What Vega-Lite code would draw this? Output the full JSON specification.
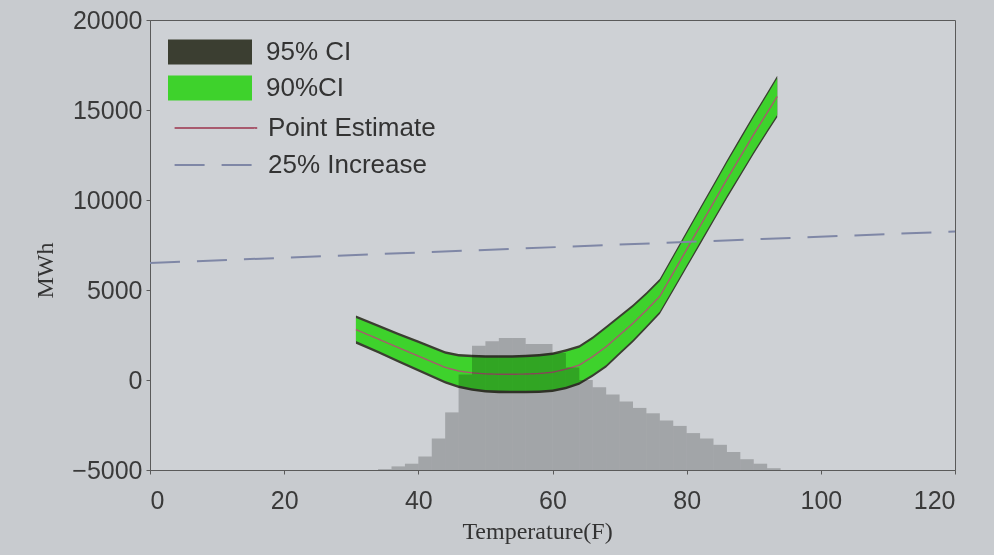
{
  "$schema": "https://vega.github.io/schema/vega-lite/v6.json",
  "width": 805,
  "height": 450,
  "autosize": {"type": "none"},
  "padding": {"left": 150, "top": 20, "right": 39, "bottom": 85},
  "background": "#c8cbcf",
  "config": {
    "view": {"fill": "#ced1d5", "stroke": "#5a5a5a", "strokeWidth": 1},
    "axis": {
      "grid": false,
      "labelFont": "Liberation Sans",
      "labelFontSize": 25,
      "labelColor": "#3a3a3a",
      "titleFont": "Liberation Serif",
      "titleFontSize": 24,
      "titleFontWeight": "normal",
      "titleColor": "#333333",
      "domainColor": "#5a5a5a",
      "tickColor": "#5a5a5a",
      "tickSize": 4,
      "format": "d"
    },
    "legend": {
      "title": null,
      "orient": "none",
      "padding": 0,
      "symbolSize": 784,
      "labelFont": "Liberation Sans",
      "labelFontSize": 26,
      "labelColor": "#333333",
      "labelLimit": 400,
      "rowPadding": 9,
      "symbolOpacity": 1
    }
  },
  "datasets": {
    "band": [
      {"t": 30.7, "est": 2800, "lo95": 2020, "hi95": 3580, "lo90": 2160, "hi90": 3440},
      {"t": 34, "est": 2280, "lo95": 1480, "hi95": 3080, "lo90": 1620, "hi90": 2940},
      {"t": 37, "est": 1800, "lo95": 970, "hi95": 2630, "lo90": 1110, "hi90": 2490},
      {"t": 40, "est": 1330, "lo95": 470, "hi95": 2190, "lo90": 610, "hi90": 2050},
      {"t": 44, "est": 700, "lo95": -200, "hi95": 1600, "lo90": -60, "hi90": 1460},
      {"t": 46, "est": 500, "lo95": -450, "hi95": 1450, "lo90": -310, "hi90": 1310},
      {"t": 48, "est": 400, "lo95": -600, "hi95": 1400, "lo90": -460, "hi90": 1260},
      {"t": 50, "est": 340, "lo95": -690, "hi95": 1370, "lo90": -550, "hi90": 1230},
      {"t": 52, "est": 320, "lo95": -730, "hi95": 1370, "lo90": -590, "hi90": 1230},
      {"t": 54, "est": 320, "lo95": -740, "hi95": 1380, "lo90": -600, "hi90": 1240},
      {"t": 56, "est": 330, "lo95": -740, "hi95": 1400, "lo90": -600, "hi90": 1260},
      {"t": 58, "est": 360, "lo95": -720, "hi95": 1440, "lo90": -580, "hi90": 1300},
      {"t": 60, "est": 430, "lo95": -670, "hi95": 1530, "lo90": -530, "hi90": 1390},
      {"t": 62, "est": 600, "lo95": -510, "hi95": 1710, "lo90": -370, "hi90": 1570},
      {"t": 64, "est": 830, "lo95": -270, "hi95": 1930, "lo90": -130, "hi90": 1790},
      {"t": 66, "est": 1300, "lo95": 180, "hi95": 2420, "lo90": 320, "hi90": 2280},
      {"t": 68, "est": 1850, "lo95": 700, "hi95": 3000, "lo90": 840, "hi90": 2860},
      {"t": 70, "est": 2500, "lo95": 1400, "hi95": 3600, "lo90": 1540, "hi90": 3460},
      {"t": 72, "est": 3150, "lo95": 2100, "hi95": 4200, "lo90": 2240, "hi90": 4060},
      {"t": 74, "est": 3880, "lo95": 2880, "hi95": 4880, "lo90": 3020, "hi90": 4740},
      {"t": 76, "est": 4650, "lo95": 3670, "hi95": 5630, "lo90": 3810, "hi90": 5490},
      {"t": 78, "est": 5950, "lo95": 4950, "hi95": 6950, "lo90": 5090, "hi90": 6810},
      {"t": 80, "est": 7250, "lo95": 6230, "hi95": 8270, "lo90": 6370, "hi90": 8130},
      {"t": 82, "est": 8550, "lo95": 7520, "hi95": 9580, "lo90": 7660, "hi90": 9440},
      {"t": 84, "est": 9850, "lo95": 8810, "hi95": 10890, "lo90": 8950, "hi90": 10750},
      {"t": 86, "est": 11150, "lo95": 10090, "hi95": 12210, "lo90": 10230, "hi90": 12070},
      {"t": 88, "est": 12400, "lo95": 11320, "hi95": 13480, "lo90": 11460, "hi90": 13340},
      {"t": 90, "est": 13650, "lo95": 12550, "hi95": 14750, "lo90": 12690, "hi90": 14610},
      {"t": 92, "est": 14850, "lo95": 13730, "hi95": 15970, "lo90": 13870, "hi90": 15830},
      {"t": 93.5, "est": 15750, "lo95": 14600, "hi95": 16900, "lo90": 14740, "hi90": 16760}
    ],
    "hist": [
      {"lo": 34, "hi": 36, "top": -4950},
      {"lo": 36, "hi": 38, "top": -4800},
      {"lo": 38, "hi": 40, "top": -4650},
      {"lo": 40, "hi": 42, "top": -4250},
      {"lo": 42, "hi": 44, "top": -3250},
      {"lo": 44, "hi": 46, "top": -1800},
      {"lo": 46, "hi": 48, "top": 300},
      {"lo": 48, "hi": 50, "top": 1900},
      {"lo": 50, "hi": 52, "top": 2150},
      {"lo": 52, "hi": 54, "top": 2330},
      {"lo": 54, "hi": 56, "top": 2330},
      {"lo": 56, "hi": 58, "top": 2000},
      {"lo": 58, "hi": 60, "top": 2000},
      {"lo": 60, "hi": 62, "top": 1500},
      {"lo": 62, "hi": 64, "top": 700},
      {"lo": 64, "hi": 66, "top": 0},
      {"lo": 66, "hi": 68, "top": -400},
      {"lo": 68, "hi": 70, "top": -800},
      {"lo": 70, "hi": 72, "top": -1200},
      {"lo": 72, "hi": 74, "top": -1550},
      {"lo": 74, "hi": 76, "top": -1850},
      {"lo": 76, "hi": 78, "top": -2250},
      {"lo": 78, "hi": 80, "top": -2550},
      {"lo": 80, "hi": 82, "top": -2950},
      {"lo": 82, "hi": 84, "top": -3250},
      {"lo": 84, "hi": 86, "top": -3600},
      {"lo": 86, "hi": 88, "top": -4000},
      {"lo": 88, "hi": 90, "top": -4400},
      {"lo": 90, "hi": 92, "top": -4650},
      {"lo": 92, "hi": 94, "top": -4900}
    ],
    "inc": [
      {"t": 0, "v": 6500},
      {"t": 120, "v": 8250}
    ]
  },
  "encoding": {
    "x": {
      "type": "quantitative",
      "scale": {"domain": [0, 120], "nice": false, "zero": false},
      "axis": {"values": [0, 20, 40, 60, 80, 100, 120], "title": "Temperature(F)", "labelPadding": 14, "titlePadding": 6, "titleX": 387}
    },
    "y": {
      "type": "quantitative",
      "scale": {"domain": [-5000, 20000], "nice": false, "zero": false},
      "axis": {"values": [-5000, 0, 5000, 10000, 15000, 20000], "title": "MWh", "labelPadding": 4, "titlePadding": 14, "titleY": 250}
    }
  },
  "layer": [
    {
      "data": {"name": "band"},
      "mark": {"type": "area", "opacity": 1},
      "encoding": {
        "x": {"field": "t", "type": "quantitative"},
        "y": {"field": "lo95", "type": "quantitative"},
        "y2": {"field": "hi95"},
        "fill": {
          "datum": "95% CI",
          "type": "nominal",
          "scale": {"domain": ["95% CI", "90%CI"], "range": ["#3b3e31", "#3ed22c"]},
          "legend": {"symbolType": "M-1,-0.9H5V0.9H-1Z", "symbolStrokeWidth": 0, "legendX": 18, "legendY": 18, "labelOffset": 70}
        }
      }
    },
    {
      "data": {"name": "band"},
      "mark": {"type": "area", "opacity": 1},
      "encoding": {
        "x": {"field": "t", "type": "quantitative"},
        "y": {"field": "lo90", "type": "quantitative"},
        "y2": {"field": "hi90"},
        "fill": {"datum": "90%CI", "type": "nominal"}
      }
    },
    {
      "data": {"name": "band"},
      "mark": {"type": "line", "strokeWidth": 1.4},
      "encoding": {
        "x": {"field": "t", "type": "quantitative"},
        "y": {"field": "est", "type": "quantitative"},
        "stroke": {
          "datum": "Point Estimate",
          "type": "nominal",
          "scale": {"domain": ["Point Estimate", "25% Increase"], "range": ["#a85a6e", "#7f87a6"]},
          "legend": {"symbolType": "M-0.6,0H5.3", "symbolStrokeWidth": 2, "symbolFillColor": "transparent", "legendX": 18, "legendY": 93, "labelOffset": 70}
        },
        "strokeDash": {
          "datum": "Point Estimate",
          "type": "nominal",
          "scale": {"domain": ["Point Estimate", "25% Increase"], "range": [[1, 0], [30, 17]]},
          "legend": {"symbolType": "M-0.6,0H5.3", "symbolStrokeWidth": 2, "symbolFillColor": "transparent", "legendX": 18, "legendY": 93, "labelOffset": 70}
        }
      }
    },
    {
      "data": {"name": "hist"},
      "mark": {"type": "rect", "fill": "#c9c9c9", "blend": "multiply"},
      "encoding": {
        "x": {"field": "lo", "type": "quantitative"},
        "x2": {"field": "hi"},
        "y": {"field": "top", "type": "quantitative"},
        "y2": {"datum": -5000}
      }
    },
    {
      "data": {"name": "inc"},
      "mark": {"type": "line", "strokeWidth": 2},
      "encoding": {
        "x": {"field": "t", "type": "quantitative"},
        "y": {"field": "v", "type": "quantitative"},
        "stroke": {"datum": "25% Increase", "type": "nominal"},
        "strokeDash": {"datum": "25% Increase", "type": "nominal"}
      }
    }
  ]
}
